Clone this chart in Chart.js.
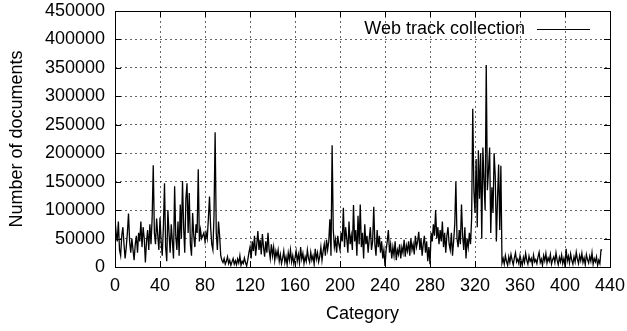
<!DOCTYPE html>
<html lang="en">
<head>
    <meta charset="UTF-8">
    <title>Web track collection</title>
    <script src="https://cdn.jsdelivr.net/npm/chart.js@4.4.0/dist/chart.umd.min.js"></script>
    <style>
        body {
            margin: 0;
            background: #ffffff;
        }
        canvas {
            display: block;
        }
    </style>
</head>
<body>
    <canvas id="docChart" width="627" height="331"></canvas>

    <script>
        // Documents per category, in thousands (category index = position)
        const docsK = [
            84, 60, 45, 80, 30, 20, 55, 70, 40, 15,
            35, 60, 94, 45, 25, 50, 30, 12, 40, 55,
            25, 60, 45, 80, 35, 70, 50, 8, 45, 65,
            30, 75, 40, 85, 179, 60, 40, 85, 55, 30,
            87, 45, 20, 70, 147, 35, 10, 100, 60, 25,
            75, 45, 15, 142, 55, 30, 80, 20, 110, 50,
            151, 70, 25, 120, 147, 60, 130, 40, 20, 95,
            55, 35, 75, 60, 172, 45, 65, 50, 55, 60,
            45, 60, 50, 85, 124, 70, 40, 30, 90, 237,
            60, 30, 80, 55, 20, 12, 8, 15, 5, 10,
            18, 6, 12, 3, 9, 15, 5, 11, 4, 14,
            7, 20, 3, 10, 6, 16, 8, 2, 12, 25,
            35, 15, 45, 28, 55, 20, 40, 63, 30, 48,
            22, 58, 35, 18, 45, 25, 60, 30, 15, 40,
            20, 35, 12, 28, 18, 30, 10, 22, 6, 15,
            28, 8, 18, 4, 25, 12, 30, 9, 20, 5,
            16, 28, 10, 22, 7, 35, 14, 24, 6, 18,
            10, 30, 15, 8, 26, 12, 20, 5, 32, 14,
            25, 9, 18, 35, 12, 28, 40, 20, 48, 30,
            45, 84, 20, 214, 66, 35, 48, 25, 55, 40,
            30, 60, 45, 104, 35, 70, 50, 25, 80, 40,
            55, 30, 109, 45, 65, 20, 90, 40, 110, 35,
            60, 15, 75, 40, 55, 25, 50, 70, 30, 45,
            106, 40, 20, 65, 35, 55, 25, 45, 15, 30,
            2, 30, 45, 65, 25, 40, 15, 35, 20, 45,
            12, 30, 22, 40, 15, 35, 25, 48, 18, 38,
            28, 45, 20, 50, 30, 40, 22, 55, 35, 45,
            62, 30, 50, 20, 40, 55, 25, 45, 10, 35,
            5, 60, 45, 75, 55, 100, 50, 70, 40, 65,
            45, 80, 35, 60, 25, 55, 70, 40, 30, 60,
            20, 45, 75, 150, 50, 35, 65, 40, 110, 55,
            30, 70, 15, 50, 35, 60, 40, 85, 278, 135,
            95, 190, 70, 205, 120, 200, 50, 210, 150, 100,
            355, 135, 170, 210, 60, 140, 95, 200, 160, 45,
            120, 180, 65, 178, 7, 15, 5, 20, 10, 3,
            18, 8, 22, 12, 4, 16, 25, 9, 14, 6,
            20, 11, 3, 17, 8, 24, 12, 5, 19, 10,
            15, 4, 21, 9, 13, 6, 18, 26, 8, 14,
            3, 20, 11, 24, 7, 16, 10, 22, 5, 13,
            18, 8, 25, 12, 4, 17, 9, 21, 6, 15,
            2, 32, 10, 19, 7, 23, 12, 5, 18, 9,
            26, 14, 6, 20, 11, 24, 8, 16, 4, 22,
            13, 7, 19, 10, 25, 5, 15, 9, 18, 3,
            12, 6, 30, 30
        ];
        const categories = docsK.map((v, i) => i);
        const docs = docsK.map(v => v * 1000);

        const xMax = 440;
        const xStep = 40;
        const yMax = 450000;
        const yStep = 50000;
        const seriesName = 'Web track collection';

        const FONT = { family: '"Liberation Sans", Arial, sans-serif', size: 18 };

        // gnuplot-like frame: full border, inward ticks on all four sides, key in the top right
        const framePlugin = {
            id: 'frame',
            afterDraw(chart) {
                const { ctx, chartArea: a, scales } = chart;
                const tick = 6;
                ctx.save();
                ctx.strokeStyle = '#000';
                ctx.lineWidth = 1;
                ctx.beginPath();
                scales.x.ticks.forEach(t => {
                    const px = Math.round(scales.x.getPixelForValue(t.value)) + 0.5;
                    ctx.moveTo(px, a.bottom);
                    ctx.lineTo(px, a.bottom - tick);
                    ctx.moveTo(px, a.top);
                    ctx.lineTo(px, a.top + tick);
                });
                scales.y.ticks.forEach(t => {
                    const py = Math.round(scales.y.getPixelForValue(t.value)) + 0.5;
                    ctx.moveTo(a.left, py);
                    ctx.lineTo(a.left + tick, py);
                    ctx.moveTo(a.right, py);
                    ctx.lineTo(a.right - tick, py);
                });
                ctx.stroke();
                ctx.strokeRect(Math.round(a.left) + 0.5, Math.round(a.top) + 0.5,
                    Math.round(a.right - a.left), Math.round(a.bottom - a.top));

                // key
                const keyY = a.top + 18;
                const lineEnd = a.right - 20;
                const lineStart = lineEnd - 53;
                ctx.font = FONT.size + 'px ' + FONT.family;
                ctx.fillStyle = '#000';
                ctx.textAlign = 'right';
                ctx.textBaseline = 'middle';
                ctx.fillText(seriesName, lineStart - 12, keyY);
                ctx.beginPath();
                ctx.moveTo(lineStart, keyY + 0.5);
                ctx.lineTo(lineEnd, keyY + 0.5);
                ctx.stroke();
                ctx.restore();
            }
        };

        const gridStyle = {
            color: 'rgba(0, 0, 0, 0.6)',
            lineWidth: 1,
            drawTicks: false
        };

        new Chart(document.getElementById('docChart'), {
            type: 'line',
            data: {
                labels: categories,
                datasets: [{
                    label: seriesName,
                    data: docs,
                    borderColor: '#000',
                    borderWidth: 1.3,
                    pointRadius: 0,
                    tension: 0,
                    fill: false
                }]
            },
            options: {
                responsive: false,
                animation: false,
                layout: { padding: { top: 11, right: 17, left: 0, bottom: 0 } },
                plugins: {
                    legend: { display: false },
                    tooltip: { enabled: false }
                },
                scales: {
                    x: {
                        type: 'linear',
                        min: 0,
                        max: xMax,
                        afterFit: s => { s.height = 64; s.paddingLeft = 0; s.paddingRight = 0; },
                        grid: gridStyle,
                        border: { display: false, dash: [2, 3] },
                        ticks: { stepSize: xStep, color: '#000', font: FONT, padding: 8, maxRotation: 0,
                                 callback: v => String(v) },
                        title: { display: true, text: 'Category', color: '#000', font: FONT, padding: { top: 0, bottom: 6 } }
                    },
                    y: {
                        min: 0,
                        max: yMax,
                        afterFit: s => { s.width = 115; s.paddingTop = 0; s.paddingBottom = 0; },
                        grid: gridStyle,
                        border: { display: false, dash: [2, 3] },
                        ticks: { stepSize: yStep, color: '#000', font: FONT, padding: 10,
                                 callback: v => String(v) },
                        title: { display: true, text: 'Number of documents', color: '#000', font: FONT, padding: { top: 6, bottom: 0 } }
                    }
                }
            },
            plugins: [framePlugin]
        });
    </script>
</body>
</html>
